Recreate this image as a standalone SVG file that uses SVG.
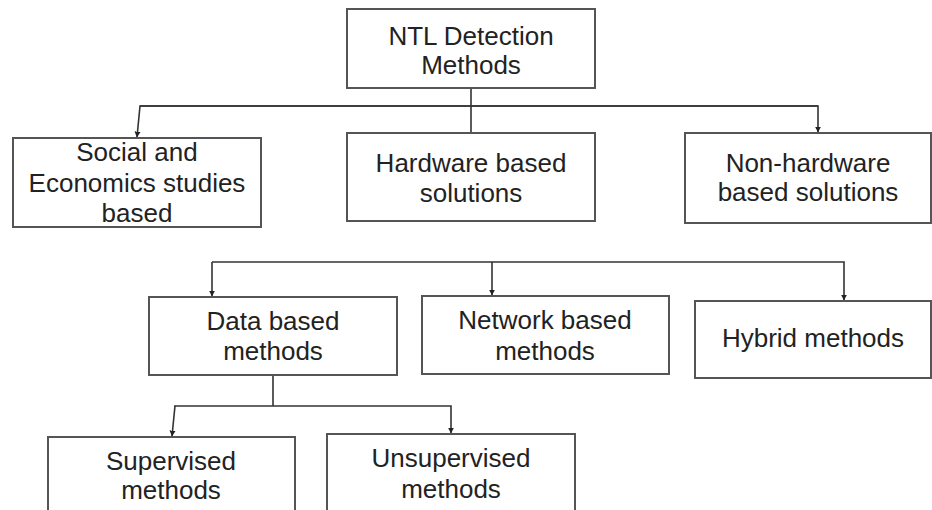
<svg xmlns="http://www.w3.org/2000/svg" width="932" height="510" viewBox="0 0 932 510">
<style>
.box{fill:#fff;stroke:#555;stroke-width:2}
.t{font-family:"Liberation Sans",Arial,sans-serif;font-size:26px;fill:#222;text-anchor:middle}
.c{fill:none;stroke:#333;stroke-width:1.6}
</style>
<defs>
<marker id="arr" viewBox="0 0 10 10" refX="9" refY="5" markerWidth="6" markerHeight="7" markerUnits="userSpaceOnUse" orient="auto">
<path d="M0,0 L10,5 L0,10 z" fill="#222"/>
</marker>
</defs>
<rect width="932" height="510" fill="#fff"/>
<g id="connectors">
<path class="c" d="M471,88 V133"/>
<path class="c" d="M818,106 H140 L137,137" marker-end="url(#arr)"/>
<path class="c" d="M140,106 H818 V132" marker-end="url(#arr)"/>
<path class="c" d="M212,262 V296" marker-end="url(#arr)"/>
<path class="c" d="M212,262 H844 V300" marker-end="url(#arr)"/>
<path class="c" d="M492,262 V295" marker-end="url(#arr)"/>
<path class="c" d="M273,375 V406"/>
<path class="c" d="M174,406 H451 V433" marker-end="url(#arr)"/>
<path class="c" d="M175,406 L172,436" marker-end="url(#arr)"/>
</g>
<g id="ntl">
<rect class="box" x="347" y="9" width="248" height="79"/>
<text class="t" x="471" y="45">NTL Detection</text>
<text class="t" x="471" y="74">Methods</text>
</g>
<g id="social">
<rect class="box" x="13" y="138" width="248" height="89"/>
<text class="t" x="137" y="161">Social and</text>
<text class="t" x="137" y="192">Economics studies</text>
<text class="t" x="137" y="222">based</text>
</g>
<g id="hardware">
<rect class="box" x="347" y="133" width="248" height="88"/>
<text class="t" x="471" y="172">Hardware based</text>
<text class="t" x="471" y="202">solutions</text>
</g>
<g id="nonhardware">
<rect class="box" x="685" y="133" width="246" height="90"/>
<text class="t" x="808" y="172">Non-hardware</text>
<text class="t" x="808" y="201">based solutions</text>
</g>
<g id="data">
<rect class="box" x="149" y="297" width="248" height="78"/>
<text class="t" x="273" y="330">Data based</text>
<text class="t" x="273" y="360">methods</text>
</g>
<g id="network">
<rect class="box" x="422" y="296" width="247" height="78"/>
<text class="t" x="545" y="329">Network based</text>
<text class="t" x="545" y="360">methods</text>
</g>
<g id="hybrid">
<rect class="box" x="695" y="301" width="236" height="77"/>
<text class="t" x="813" y="347">Hybrid methods</text>
</g>
<g id="supervised">
<rect class="box" x="48" y="437" width="247" height="80"/>
<text class="t" x="171" y="470">Supervised</text>
<text class="t" x="171" y="499">methods</text>
</g>
<g id="unsupervised">
<rect class="box" x="327" y="434" width="248" height="83"/>
<text class="t" x="451" y="467">Unsupervised</text>
<text class="t" x="451" y="498">methods</text>
</g>
</svg>
